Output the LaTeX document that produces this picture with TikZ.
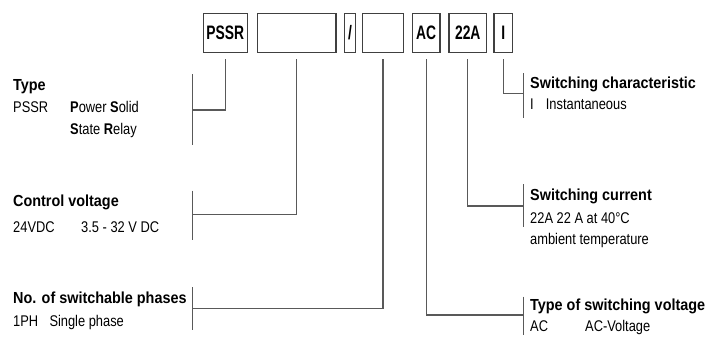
\documentclass[tikz,border=0pt]{standalone}
\usepackage{fontspec}
\setmainfont{Liberation Sans}
\newfontfamily\rgfont[FakeStretch=0.83]{Liberation Sans}
\newfontfamily\ttlfont[FakeStretch=0.9]{Liberation Sans}
\newfontfamily\boxfont[FakeStretch=0.71]{Liberation Sans}
\begin{document}
\begin{tikzpicture}[x=1pt,y=-1pt,
  codebox/.style={draw=black!75,line width=1.2pt,minimum height=39pt,inner sep=0pt,
    font=\boxfont\fontsize{19.5}{21}\selectfont\bfseries},
  conn/.style={draw=black!65,line width=1.2pt},
  ttl/.style={anchor=base west,inner sep=0pt,font=\ttlfont\fontsize{16}{18}\selectfont\bfseries},
  txt/.style={anchor=base west,inner sep=0pt,font=\rgfont\fontsize{15.5}{17}\selectfont}]
\useasboundingbox (0,0) rectangle (713,338);
% code boxes
\node[codebox,minimum width=44pt] (b1) at (225.3,32.8) {PSSR};
\node[codebox,minimum width=78.3pt] (b2) at (296.8,32.8) {};
\node[codebox,minimum width=11.4pt] (b3) at (350,32.8) {/};
\node[codebox,minimum width=41.4pt] (b4) at (383,32.8) {};
\node[codebox,minimum width=27.7pt] (b5) at (426.2,32.8) {AC};
\node[codebox,minimum width=37.7pt] (b6) at (467.8,32.8) {22A};
\node[codebox,minimum width=18.7pt] (b7) at (503.3,32.8) {I};
% junction coordinates on the bars
\coordinate (jt) at (192.7,110);
\coordinate (jc) at (192.7,214.3);
\coordinate (jp) at (192.7,308.3);
\coordinate (js) at (523.3,93.3);
\coordinate (ji) at (523.3,206);
\coordinate (jv) at (523.3,315);
% connectors
\draw[conn,shorten <=6.5pt] (b1.south) |- (jt);
\draw[conn,shorten <=6.5pt] (b2.south) |- (jc);
\draw[conn,shorten <=6.5pt] (b4.south) |- (jp);
\draw[conn,shorten <=6.5pt] (b7.south) |- (js);
\draw[conn,shorten <=6.5pt] (b6.south) |- (ji);
\draw[conn,shorten <=6.5pt] (b5.south) |- (jv);
% bars
\draw[conn] (jt) ++(0,-36) -- ++(0,71);
\draw[conn] (jc) ++(0,-23.6) -- ++(0,49.3);
\draw[conn] (jp) ++(0,-21) -- ++(0,42.7);
\draw[conn] (js) ++(0,-20) -- ++(0,45);
\draw[conn] (ji) ++(0,-22) -- ++(0,42.7);
\draw[conn] (jv) ++(0,-18.3) -- ++(0,38.3);
% left texts
\node[ttl] (t1) at (13,90) {Type};
\node[txt] (t1a) at (13,112) {PSSR};
\node[txt] (t1b) at (70,112) {\textbf{P}ower \textbf{S}olid};
\node[txt] (t1c) at (70,134) {\textbf{S}tate \textbf{R}elay};
\node[ttl] (t2) at (13,206) {Control voltage};
\node[txt] (t2a) at (13,232.7) {24VDC};
\node[txt] (t2b) at (81,232.7) {3.5 - 32 V DC};
\node[ttl] (t3) at (13,303.3) {No. of switchable phases};
\node[txt] (t3a) at (13,326.7) {1PH};
\node[txt] (t3b) at (49.3,326.7) {Single phase};
% right texts
\node[ttl] (t4) at (530,88.3) {Switching characteristic};
\node[txt] (t4a) at (530,109.3) {I};
\node[txt] (t4b) at (545.7,109.3) {Instantaneous};
\node[ttl] (t5) at (530,200) {Switching current};
\node[txt] (t5a) at (530,223.3) {22A};
\node[txt] (t5b) at (556.5,223.3) {22 A at 40°C};
\node[txt] (t5c) at (530,244) {ambient temperature};
\node[ttl] (t6) at (530,310.7) {Type of switching voltage};
\node[txt] (t6a) at (530,331.7) {AC};
\node[txt] (t6b) at (585,331.7) {AC-Voltage};
\end{tikzpicture}
\end{document}
